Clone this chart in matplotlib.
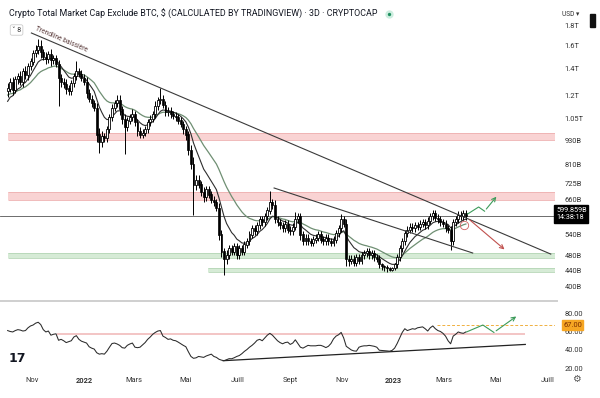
import datetime as dt
import numpy as np
import pandas as pd
import matplotlib
matplotlib.use("Agg")
import matplotlib.pyplot as plt
import matplotlib.dates as mdates
import matplotlib.transforms as mtrans
from matplotlib.lines import Line2D
from matplotlib.patches import Rectangle
from matplotlib.ticker import NullLocator

plt.rcParams['font.family'] = ['Roboto', 'DejaVu Sans']

# ---------------- data ----------------
start_date = "2021-10-03"          # first 3D candle
warmup_closes = [1300, 1250, 1180, 1170, 1150, 1130, 1090, 1060, 1080, 1120]   # Sept 2021 (for EMAs only)
first_open = 1230
closes = [  # billions USD, 3D closes
    1250, 1300, 1240, 1320, 1340, 1300, 1380, 1350, 1420, 1460,
    1530, 1560, 1600, 1540, 1500, 1480, 1520, 1470, 1490, 1440,
    1330, 1300, 1280, 1250, 1230, 1290, 1340, 1380, 1360, 1330,
    1300, 1220, 1180, 1150, 1120, 960, 920, 950, 940, 990,
    1060, 1120, 1150, 1170, 1110, 1050, 1000, 1040, 1060, 1080,
    1030, 980, 960, 970, 990, 1030, 1050, 1080, 1130, 1170,
    1180, 1140, 1090, 1100, 1080, 1070, 1060, 1040, 1020, 990,
    960, 880, 810, 720, 740, 720, 690, 670, 700, 680,
    660, 650, 630, 540, 490, 470, 480, 500, 490, 505,
    480, 500, 490, 510, 520, 540, 560, 550, 570, 590,
    580, 600, 620, 650, 640, 590, 580, 570, 560, 575,
    555, 550, 565, 590, 600, 540, 520, 530, 520, 515,
    525, 530, 540, 525, 520, 530, 520, 515, 525, 545,
    560, 590, 575, 470, 465, 470, 460, 475, 465, 480,
    485, 490, 480, 485, 475, 470, 455, 450, 448, 445,
    442, 445, 455, 475, 500, 520, 545, 555, 565, 560,
    570, 565, 575, 580, 570, 585, 600, 610, 595, 590,
    580, 575, 560, 555, 520, 580, 590, 605, 600, 610, 599.859,
]
hi_ext = [  # upper wick, % above body
    3, 2, 3, 2, 2, 3, 2, 3, 2, 2,
    2, 3, 4, 3, 2, 3, 2, 3, 2, 2,
    2, 2, 2, 3, 2, 2, 2, 6, 2, 2,
    2, 3, 2, 2, 2, 3, 4, 3, 2, 2,
    2, 2, 2, 3, 3, 2, 3, 2, 2, 3,
    2, 2, 2, 2, 2, 2, 2, 2, 3, 2,
    6, 2, 2, 2, 2, 2, 2, 2, 2, 2,
    2, 2, 3, 4, 3, 3, 2, 3, 2, 2,
    2, 2, 2, 3, 3, 2, 3, 2, 2, 2,
    2, 2, 2, 2, 2, 2, 2, 2, 2, 2,
    2, 2, 2, 7, 2, 3, 2, 2, 2, 2,
    2, 2, 2, 4, 2, 2, 2, 2, 2, 2,
    2, 2, 2, 2, 2, 2, 2, 2, 2, 2,
    2, 3, 2, 3, 2, 2, 2, 2, 2, 2,
    2, 2, 2, 2, 2, 2, 2, 1, 1, 1,
    1, 1, 1, 2, 2, 2, 2, 2, 2, 2,
    2, 2, 2, 2, 2, 2, 2, 2, 2, 2,
    2, 2, 2, 2, 2, 2, 2, 2, 2, 2, 2,
]
lo_ext = [  # lower wick, % below body
    3, 2, 3, 2, 3, 2, 3, 2, 3, 2,
    2, 2, 2, 3, 2, 3, 2, 3, 2, 2,
    15, 3, 2, 3, 2, 2, 2, 2, 2, 2,
    2, 3, 2, 2, 2, 4, 6, 3, 2, 2,
    2, 2, 2, 2, 3, 3, 14, 2, 2, 2,
    2, 3, 2, 2, 2, 2, 2, 2, 2, 2,
    2, 2, 2, 2, 2, 2, 2, 2, 2, 3,
    3, 3, 3, 16, 3, 2, 2, 3, 2, 2,
    2, 2, 2, 3, 3, 9, 3, 2, 2, 2,
    2, 2, 2, 2, 2, 2, 2, 2, 2, 2,
    2, 2, 2, 2, 2, 2, 2, 2, 2, 2,
    2, 2, 2, 2, 2, 3, 2, 2, 2, 2,
    2, 2, 2, 2, 2, 2, 2, 2, 2, 2,
    2, 2, 2, 4, 3, 2, 2, 2, 2, 2,
    2, 2, 2, 2, 2, 2, 2, 2, 2, 2,
    1, 1, 1, 2, 2, 2, 2, 2, 2, 2,
    2, 2, 2, 2, 2, 2, 2, 2, 2, 2,
    2, 2, 2, 2, 5, 2, 2, 2, 2, 2, 2,
]
rsi_values = [
    61, 60, 59.5, 61, 62, 61.5, 60.5, 61, 64, 66,
    67, 69, 70, 67.5, 62, 59.5, 60.5, 56, 57, 57.5,
    50.5, 51.5, 50, 48, 49, 50, 54, 55.5, 51.5, 49.5,
    48.5, 47.5, 43.5, 42, 41, 37, 35.5, 36, 35.5, 38.7,
    43, 47, 47.5, 46.5, 45, 42.5, 42, 45, 46.5, 47.5,
    43, 42.5, 43, 45.5, 48, 51.5, 54, 57, 59, 60.5,
    61, 55, 53.5, 51.5, 52, 50.5, 50, 48.5, 46.7, 45,
    43.5, 38, 33, 31, 31.5, 33, 32.5, 32, 33.5, 34.5,
    35.5, 33, 32, 30, 29, 28.4, 29.5, 30.6, 30.5, 31.6,
    33, 34, 36, 38.5, 40.5, 43, 45, 47.5, 50.5, 51.5,
    50, 53, 56, 58, 56, 53, 50, 48, 46.7, 48,
    48.5, 46, 47.5, 51, 47, 43, 42, 43.5, 45, 44.5,
    44.5, 44.5, 45, 45, 44, 42.6, 44, 47, 52, 55,
    56.5, 59, 53, 44, 42, 40, 39, 38.7, 43, 44,
    44.5, 44.5, 45, 44.5, 44, 43, 39.7, 39.5, 39.4, 39,
    38.7, 39.5, 42, 47, 53, 59, 63, 61, 62, 63,
    62.5, 64, 64.5, 65, 63, 60.5, 64, 66, 63, 61,
    60, 58, 55, 50, 46.7, 55, 57, 59.5, 58.5, 58, 59.5,
]

price_ticks = [1800, 1600, 1400, 1200, 1050, 930, 810, 725, 660, 540, 480, 440, 400]
price_tick_labels = ['1.8T', '1.6T', '1.4T', '1.2T', '1.05T', '930B', '810B', '725B',
                     '660B', '540B', '480B', '440B', '400B']
rsi_ticks = [80, 60, 40, 20]
month_ticks = ['2021-11-01', '2022-01-01', '2022-03-01', '2022-05-01', '2022-07-01',
               '2022-09-01', '2022-11-01', '2023-01-01', '2023-03-01', '2023-05-01',
               '2023-07-01']
month_labels = ['Nov', '2022', 'Mars', 'Mai', 'Juill', 'Sept', 'Nov', '2023', 'Mars',
                'Mai', 'Juill']
year_labels = ['2022', '2023']

# zones (billions)
red_zones = [(928, 966), (658, 688)]
green_zones = [(472, 487, '2021-10-03'), (436, 447, '2022-05-27')]
# drawn lines: (date, price)
trend_main = [('2021-10-31', 1720), ('2023-07-05', 483)]
trend_second = [('2022-08-13', 706), ('2023-04-04', 486)]
green_path = [('2023-03-29', 608), ('2023-04-11', 633), ('2023-04-18', 618), ('2023-05-04', 680)]
red_path = [('2023-03-29', 594), ('2023-05-14', 491)]
rsi_support = [('2022-06-14', 28.4), ('2023-06-05', 46)]
rsi_pink_level = 57
rsi_pink_span = ('2021-11-30', '2023-06-05')
rsi_dash_level = 67
rsi_dash_start = '2023-02-21'
rsi_green_path = [('2023-03-28', 59.6), ('2023-04-16', 67), ('2023-04-29', 59), ('2023-05-28', 78)]
x_limits = ('2021-09-24', '2023-07-10')

# ---------------- derived ----------------
dates = pd.date_range(start_date, periods=len(closes), freq='3D')
xd = mdates.date2num(dates.to_pydatetime())
c = np.array(closes, dtype=float)
o = np.array([first_open] + closes[:-1], dtype=float)
top = np.maximum(o, c)
bot = np.minimum(o, c)
hi = top * (1 + np.array(hi_ext) / 100.0)
lo = bot * (1 - np.array(lo_ext) / 100.0)
allc = pd.Series(warmup_closes + closes, dtype=float)
ema_fast = allc.ewm(span=9, adjust=False).mean().values[len(warmup_closes):]
ema_slow = allc.ewm(span=21, adjust=False).mean().values[len(warmup_closes):]

def dn(s):
    return mdates.date2num(pd.Timestamp(s).to_pydatetime())

W, H = 600, 398
fig = plt.figure(figsize=(6, 3.98), dpi=100)
fig.patch.set_facecolor('white')
ax = fig.add_axes([0, 1 - 300 / H, 555 / W, 300 / H])
ax2 = fig.add_axes([0, 1 - 373 / H, 555 / W, 71 / H], sharex=ax)

for a in (ax, ax2):
    for s in a.spines.values():
        s.set_visible(False)
    a.set_facecolor('none')

# price panel
ax.set_yscale('log')
ax.set_ylim(371, 2079)
ax.set_xlim(dn(x_limits[0]), dn(x_limits[1]))
xl0, xl1 = ax.get_xlim()

for lo_z, hi_z in red_zones:
    ax.fill_between([dn(start_date), xl1], lo_z, hi_z, color='#f9d3d3', lw=0, zorder=1)
    ax.hlines([lo_z, hi_z], dn(start_date), xl1, color='#eeb0b0', lw=0.6, zorder=1)
for lo_z, hi_z, st in green_zones:
    ax.fill_between([dn(st), xl1], lo_z, hi_z, color='#d6ebd6', lw=0, zorder=1)
    ax.hlines([lo_z, hi_z], dn(st), xl1, color='#b5d6b6', lw=0.6, zorder=1)

ax.axhline(closes[-1], color='#555555', lw=0.6, zorder=2)

ax.plot(xd, ema_slow, color='#6f8f73', lw=0.9, zorder=3)
ax.plot(xd, ema_fast, color='#2e2e2e', lw=0.8, zorder=3)

up = c >= o
ax.vlines(xd, lo, hi, color='black', lw=0.7, zorder=4)
ax.bar(xd[up], (top - bot)[up] + 0.5, bottom=bot[up], width=2.3, color='white',
       edgecolor='black', linewidth=0.6, zorder=5)
ax.bar(xd[~up], (top - bot)[~up] + 0.5, bottom=bot[~up], width=2.3, color='black',
       edgecolor='black', linewidth=0.5, zorder=5)

ax.plot([dn(d) for d, _ in trend_main], [p for _, p in trend_main], color='#3a3a3a', lw=0.8, zorder=6)
ax.plot([dn(d) for d, _ in trend_second], [p for _, p in trend_second], color='#3a3a3a', lw=0.8, zorder=6)
ax.text(dn('2021-12-05'), 1655, 'Trendline baissière', rotation=-23, fontsize=4.8,
        color='#5a3b3b', ha='center', va='center', rotation_mode='anchor', zorder=7)

gx = [dn(d) for d, _ in green_path]
gy = [p for _, p in green_path]
ax.plot(gx[:-1], gy[:-1], color='#3c9b5a', lw=0.8, zorder=7)
ax.annotate('', xy=(gx[-1], gy[-1]), xytext=(gx[-2], gy[-2]),
            arrowprops=dict(arrowstyle='->', color='#3c9b5a', lw=0.8, mutation_scale=7), zorder=7)
ax.annotate('', xy=(dn(red_path[1][0]), red_path[1][1]), xytext=(dn(red_path[0][0]), red_path[0][1]),
            arrowprops=dict(arrowstyle='->', color='#c0504d', lw=0.8, mutation_scale=7), zorder=7)
ax.plot([dn('2023-03-25')], [572], marker='o', ms=6, mfc='none', mec='#d06060', mew=0.6, zorder=7)

ax.yaxis.tick_right()
ax.set_yticks(price_ticks)
ax.set_yticklabels(price_tick_labels)
ax.yaxis.set_minor_locator(NullLocator())
ax.tick_params(axis='y', length=0, pad=7, labelsize=5.4, labelcolor='#333333')
ax.tick_params(axis='x', bottom=False, labelbottom=False)

blend = mtrans.blended_transform_factory(ax.transAxes, ax.transData)
ax.text(1.0 + 1 / 555, closes[-1] * 1.012, '599.859B\n14:38:18', transform=blend, fontsize=5.2,
        color='white', ha='left', va='center', linespacing=1.0,
        bbox=dict(boxstyle='square,pad=0.25', fc='black', ec='black'), zorder=10, clip_on=False)

# RSI panel
ax2.set_ylim(15.1, 91.9)
ax2.plot(xd, rsi_values, color='#2a2a2a', lw=0.75, zorder=4)
ax2.hlines(rsi_pink_level, dn(rsi_pink_span[0]), dn(rsi_pink_span[1]), color='#f2c0c0', lw=1.3, zorder=2)
ax2.hlines(rsi_dash_level, dn(rsi_dash_start), xl1, color='#f0b040', lw=0.7,
           linestyles=(0, (3, 2)), zorder=2)
ax2.plot([dn(d) for d, _ in rsi_support], [v for _, v in rsi_support], color='#222222', lw=0.9, zorder=3)
rx = [dn(d) for d, _ in rsi_green_path]
ry = [v for _, v in rsi_green_path]
ax2.plot(rx[:-1], ry[:-1], color='#3c9b5a', lw=0.8, zorder=5)
ax2.annotate('', xy=(rx[-1], ry[-1]), xytext=(rx[-2], ry[-2]),
             arrowprops=dict(arrowstyle='->', color='#3c9b5a', lw=0.8, mutation_scale=7), zorder=5)
ax2.yaxis.tick_right()
ax2.set_yticks(rsi_ticks)
ax2.set_yticklabels([f'{v:.2f}' for v in rsi_ticks])
ax2.tick_params(axis='y', length=0, pad=7, labelsize=5.4, labelcolor='#333333')
blend2 = mtrans.blended_transform_factory(ax2.transAxes, ax2.transData)
ax2.text(1.0 + 8 / 555, rsi_dash_level, '67.00', transform=blend2, fontsize=5.4, color='#7a2d00',
         ha='left', va='center', bbox=dict(boxstyle='square,pad=0.15', fc='#f6a623', ec='#f6a623'),
         zorder=10, clip_on=False)

ax2.set_xticks([dn(d) for d in month_ticks])
ax2.set_xticklabels(month_labels)
ax2.tick_params(axis='x', length=0, pad=3, labelsize=5.4, labelcolor='#333333')
for t in ax2.get_xticklabels():
    if t.get_text() in year_labels:
        t.set_fontweight('bold')

# separator
fig.add_artist(Line2D([0, 557 / W], [1 - 301 / H] * 2, color='#cfcfcf', lw=1.4, transform=fig.transFigure))

# header / chrome
fig.text(9 / W, 1 - 14 / H, 'Crypto Total Market Cap Exclude BTC, $ (CALCULATED BY TRADINGVIEW) · 3D · CRYPTOCAP',
         fontsize=6.4, color='#131722', va='center', ha='left')
fig.add_artist(Line2D([389 / W], [1 - 14 / H], marker='o', ms=6, mfc='#cdeee0', mec='none',
                      transform=fig.transFigure))
fig.add_artist(Line2D([389 / W], [1 - 14 / H], marker='o', ms=2.4, mfc='#1f8f5f', mec='none',
                      transform=fig.transFigure))
fig.text(12 / W, 1 - 30 / H, '˅ 8', fontsize=5, color='#333333', va='center', ha='left',
         bbox=dict(boxstyle='round,pad=0.25', fc='white', ec='#cccccc', lw=0.6))
fig.text(562 / W, 1 - 14 / H, 'USD ▾', fontsize=4.8, color='#333333', va='center', ha='left')
fig.add_artist(Rectangle((590 / W, 1 - 27 / H), 5 / W, 13 / H, color='#111111', transform=fig.transFigure))
fig.text(9 / W, 1 - 359 / H, '17', fontsize=9, fontweight='black', color='#131722', va='center', ha='left',
         family='DejaVu Sans')
fig.text(576 / W, 1 - 379 / H, '⚙', fontsize=7, color='#555555', va='center', ha='center',
         family='DejaVu Sans')

fig.savefig('out.png', dpi=100, facecolor='white')
